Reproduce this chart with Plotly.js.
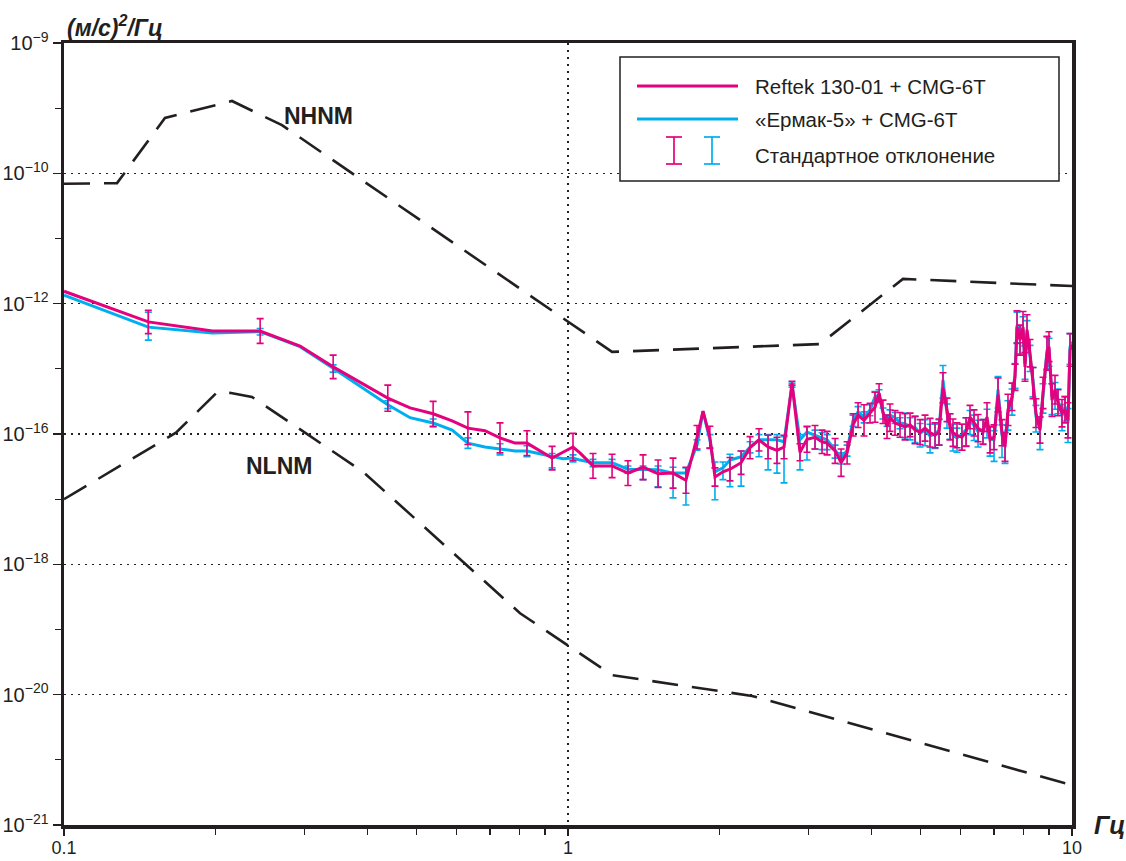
<!DOCTYPE html>
<html><head><meta charset="utf-8">
<script src="https://cdn.plot.ly/plotly-3.0.1.min.js"></script>
<style>html,body{margin:0;padding:0;background:#fff}#chart{width:1126px;height:861px}</style>
</head><body><div id="chart"></div>
<script>
// Frequencies, Hz (shared by both recordings)
const freqHz = [
 0.100, 0.147, 0.197, 0.245, 0.294, 0.342, 0.439, 0.486, 0.540, 0.589,
 0.633, 0.684, 0.733, 0.785, 0.829, 0.930, 0.977, 1.023, 1.056, 1.121,
 1.223, 1.315, 1.409, 1.509, 1.616, 1.714, 1.803, 1.853, 1.912, 1.957,
 2.030, 2.096, 2.205, 2.297, 2.393, 2.494, 2.598, 2.683, 2.783, 2.886,
 2.980, 3.091, 3.192, 3.266, 3.388, 3.482, 3.579, 3.678, 3.763, 3.867,
 3.974, 4.066, 4.142, 4.217, 4.295, 4.354, 4.455, 4.558, 4.664, 4.772,
 4.882, 4.995, 5.110, 5.228, 5.349, 5.447, 5.546, 5.649, 5.727, 5.806,
 5.913, 6.048, 6.163, 6.275, 6.392, 6.510, 6.660, 6.782, 6.877, 7.003,
 7.132, 7.263, 7.364, 7.464, 7.603, 7.708, 7.779, 7.886, 7.995, 8.068,
 8.142, 8.254, 8.368, 8.482, 8.640, 8.759, 8.920, 9.003, 9.128, 9.253,
 9.380, 9.554, 9.685, 9.819, 9.910, 10.0];

// PSD in dB (10*log10 of the plotted quantity)
const reftekDb = [
 -128.1,-132.8,-134.2,-134.2,-136.5,-139.7,-144.5,-146.0,-146.9,-148.0,
 -149.1,-149.5,-150.6,-151.4,-151.4,-153.7,-152.8,-152.0,-152.9,-154.9,
 -154.9,-156.0,-155.1,-156.1,-156.0,-157.1,-150.5,-146.5,-150.5,-156.6,
 -155.8,-155.4,-154.4,-152.1,-150.9,-152.0,-152.5,-152.0,-142.2,-152.8,
 -150.8,-150.5,-151.2,-151.4,-152.6,-154.4,-152.9,-148.6,-147.1,-147.9,
 -146.8,-145.9,-143.7,-146.6,-148.9,-147.5,-148.3,-148.6,-148.9,-148.6,
 -149.4,-149.7,-149.1,-149.8,-150.2,-149.7,-142.9,-146.3,-148.9,-149.8,
 -150.2,-150.5,-149.7,-147.4,-148.3,-149.1,-149.7,-147.4,-150.9,-150.5,
 -144.0,-149.8,-152.0,-146.3,-144.3,-141.3,-133.6,-135.6,-133.6,-139.7,
 -134.0,-137.6,-142.2,-146.8,-149.4,-143.7,-137.6,-136.6,-144.8,-143.2,
 -145.2,-146.8,-146.3,-147.9,-137.1,-136.3];

const ermakDb = [
 -128.7,-133.6,-134.5,-134.3,-136.6,-139.9,-145.5,-147.5,-148.3,-149.4,
 -151.4,-152.0,-152.3,-152.6,-152.6,-153.5,-153.8,-153.7,-154.0,-154.4,
 -154.4,-155.4,-155.5,-155.5,-156.0,-156.0,-151.7,-146.5,-150.9,-155.8,
 -155.2,-154.0,-153.5,-152.0,-150.9,-150.9,-150.9,-151.2,-142.5,-150.9,
 -149.7,-150.2,-150.6,-150.9,-152.5,-153.7,-152.5,-147.9,-146.6,-147.4,
 -146.3,-144.3,-144.0,-146.8,-147.9,-147.1,-147.5,-148.3,-148.4,-148.9,
 -149.0,-149.9,-149.4,-150.3,-150.0,-149.4,-141.7,-146.9,-148.5,-150.2,
 -150.6,-150.1,-149.3,-147.9,-148.7,-149.6,-149.3,-148.0,-150.4,-151.0,
 -143.2,-150.2,-151.4,-146.8,-144.8,-140.8,-133.3,-135.2,-133.9,-139.2,
 -134.4,-138.1,-141.7,-147.3,-149.0,-144.2,-137.2,-137.1,-144.3,-143.8,
 -144.7,-147.2,-145.8,-148.3,-136.6,-135.8];

// Standard deviation, dB (null = no bar shown)
const reftekSdDb = [
 null,1.8,null,1.9,null,1.8,2.0,null,1.9,null,
 2.5,null,2.3,null,1.9,1.8,null,2.1,null,1.9,
 1.8,1.9,1.9,2.1,2.3,2.0,1.8,null,1.7,1.4,
 null,1.8,1.8,1.7,1.7,1.8,2.0,1.8,0.3,1.3,
 2.0,1.8,1.8,1.8,1.9,2.1,1.7,1.7,1.9,2.4,
 1.5,2.3,1.4,1.8,1.8,2.1,1.9,1.9,2.0,1.8,
 2.1,1.9,2.0,2.2,1.9,2.0,2.3,1.8,2.0,2.1,
 1.9,2.0,2.2,1.8,2.0,2.1,1.9,2.2,2.0,1.9,
 2.6,2.0,2.2,2.4,2.1,2.0,2.5,2.3,2.4,2.2,
 2.3,2.1,2.4,2.2,2.0,2.4,2.6,2.3,2.5,2.2,
 2.0,2.1,2.0,2.7,2.5,null];

const ermakSdUpDb = [
 null,2.3,null,0.5,null,0.5,0.6,null,0.6,null,
 0.8,null,0.8,null,0.8,0.5,null,0.5,null,0.5,
 0.5,0.5,0.6,0.6,0.9,0.8,0.8,null,0.8,1.5,
 0.9,0.9,0.9,0.8,0.8,0.8,0.8,0.8,0.3,0.8,
 0.8,0.8,0.8,0.8,0.8,0.8,0.8,0.8,0.8,0.8,
 0.8,0.8,0.8,0.8,0.8,0.8,0.8,0.8,1.6,1.4,
 1.7,1.5,1.6,1.8,1.5,1.6,2.2,1.5,1.6,1.7,
 1.5,1.6,1.8,1.5,1.6,1.7,1.5,1.8,1.6,1.5,
 2.0,1.6,1.7,1.9,1.7,1.6,2.0,1.8,1.9,1.7,
 1.8,1.7,1.9,1.7,1.6,1.9,2.1,1.8,2.0,1.7,
 1.6,1.7,1.6,2.2,2.0,null];

const ermakSdDownDb = [
 null,2.0,null,0.5,null,0.6,0.6,null,0.6,null,
 0.8,null,0.9,null,0.9,1.7,null,0.6,null,0.6,
 0.5,0.6,1.5,2.6,3.8,4.9,0.8,null,1.2,4.3,
 1.8,4.1,4.5,0.9,2.6,4.6,5.1,6.3,0.3,4.6,
 4.3,2.1,1.8,1.5,1.2,0.9,0.9,0.9,0.9,0.9,
 0.9,0.9,0.9,0.9,0.9,0.9,0.9,0.9,2.2,2.0,
 2.3,2.1,2.4,2.6,2.2,2.3,2.8,2.2,2.3,2.4,
 2.2,2.4,2.5,2.2,2.3,2.4,2.2,2.6,3.0,3.2,
 2.8,3.4,3.1,2.6,2.3,2.2,2.7,2.5,2.6,2.4,
 2.5,2.3,2.6,2.4,3.4,2.6,2.8,2.5,2.7,2.4,
 2.2,2.3,2.2,3.0,2.7,null];

// Noise models (Peterson), as drawn
const nhnmFreq = [0.100, 0.1274, 0.1586, 0.2154, 0.2707, 1.223, 3.162, 4.620, 10.0];
const nhnmDb   = [-111.6, -111.5, -101.5, -98.9, -102.6, -137.4, -136.2, -126.2, -127.3];
const nlnmFreq = [0.100, 0.1668, 0.2012, 0.2145, 0.2360, 0.3920, 0.8033, 1.223, 2.318, 10.0];
const nlnmDb   = [-160.0, -149.8, -143.6, -143.7, -144.3, -155.8, -177.5, -187.0, -190.2, -203.9];

// Axis ticks
const yTickVals = [1e-9, 1e-11, 1e-13, 1e-15, 1e-17, 1e-19, 1e-21];
const yTickText = ['10<sup>−9</sup>','10<sup>−10</sup>','10<sup>−12</sup>','10<sup>−16</sup>','10<sup>−18</sup>','10<sup>−20</sup>','10<sup>−21</sup>'];
const yMinorVals = [1e-10, 1e-12, 1e-14, 1e-16, 1e-18, 1e-20];
const xTickVals = [0.1, 1, 10];
const xTickText = ['0.1', '1', '10'];
const xMinorVals = [0.2,0.3,0.4,0.5,0.6,0.7,0.8,0.9,2,3,4,5,6,7,8,9];

const seriesNames = ['Reftek 130-01 + CMG-6T', '«Ермак-5» + CMG-6T', 'Стандартное отклонение'];

const MAG = '#e5007e', CYA = '#00aeef', INK = '#231f20';
const FONT = 'Liberation Sans, Arial, Helvetica, sans-serif';

const toLin = db => Math.pow(10, db / 10);
const errPlus = (dbArr, sd) => dbArr.map((d, i) => sd[i] == null ? NaN : toLin(d) * (Math.pow(10, sd[i] / 10) - 1));
const errMinus = (dbArr, sd) => dbArr.map((d, i) => sd[i] == null ? NaN : toLin(d) * (1 - Math.pow(10, -sd[i] / 10)));

const traces = [
  {x: nhnmFreq, y: nhnmDb.map(toLin), mode: 'lines', line: {color: INK, width: 2.6, dash: '26px,14px'}, hoverinfo: 'skip', name: 'NHNM'},
  {x: nlnmFreq, y: nlnmDb.map(toLin), mode: 'lines', line: {color: INK, width: 2.6, dash: '26px,14px'}, hoverinfo: 'skip', name: 'NLNM'},
  {x: freqHz, y: ermakDb.map(toLin), mode: 'lines', name: seriesNames[1],
   line: {color: CYA, width: 3},
   error_y: {type: 'data', symmetric: false, array: errPlus(ermakDb, ermakSdUpDb), arrayminus: errMinus(ermakDb, ermakSdDownDb),
             color: CYA, thickness: 1.6, width: 3.5}},
  {x: freqHz, y: reftekDb.map(toLin), mode: 'lines', name: seriesNames[0],
   line: {color: MAG, width: 3},
   error_y: {type: 'data', symmetric: false, array: errPlus(reftekDb, reftekSdDb), arrayminus: errMinus(reftekDb, reftekSdDb),
             color: MAG, thickness: 1.6, width: 3.5}}
];

const px = v => (v - 64) / 1008;
const py = v => (825 - v) / 782;

const shapes = [
  {type: 'rect', xref: 'paper', yref: 'paper', x0: px(620), x1: px(1059), y0: py(181), y1: py(57),
   line: {color: INK, width: 1.5}, fillcolor: '#ffffff', layer: 'above'},
  {type: 'line', xref: 'paper', yref: 'paper', x0: px(637), x1: px(738), y0: py(86), y1: py(86), line: {color: MAG, width: 3}},
  {type: 'line', xref: 'paper', yref: 'paper', x0: px(637), x1: px(738), y0: py(119), y1: py(119), line: {color: CYA, width: 3}},
  {type: 'line', xref: 'paper', yref: 'paper', x0: px(674), x1: px(674), y0: py(164), y1: py(137), line: {color: MAG, width: 1.7}},
  {type: 'line', xref: 'paper', yref: 'paper', x0: px(666), x1: px(682), y0: py(137), y1: py(137), line: {color: MAG, width: 1.7}},
  {type: 'line', xref: 'paper', yref: 'paper', x0: px(666), x1: px(682), y0: py(164), y1: py(164), line: {color: MAG, width: 1.7}},
  {type: 'line', xref: 'paper', yref: 'paper', x0: px(712), x1: px(712), y0: py(164), y1: py(137), line: {color: CYA, width: 1.7}},
  {type: 'line', xref: 'paper', yref: 'paper', x0: px(704), x1: px(720), y0: py(137), y1: py(137), line: {color: CYA, width: 1.7}},
  {type: 'line', xref: 'paper', yref: 'paper', x0: px(704), x1: px(720), y0: py(164), y1: py(164), line: {color: CYA, width: 1.7}}
];

const legFont = {family: FONT, size: 20.5, color: INK};
const annotations = [
  {xref: 'paper', yref: 'paper', x: px(753), y: py(86), xanchor: 'left', yanchor: 'middle', showarrow: false, text: seriesNames[0], font: legFont},
  {xref: 'paper', yref: 'paper', x: px(753), y: py(119), xanchor: 'left', yanchor: 'middle', showarrow: false, text: seriesNames[1], font: legFont},
  {xref: 'paper', yref: 'paper', x: px(753), y: py(155), xanchor: 'left', yanchor: 'middle', showarrow: false, text: seriesNames[2], font: legFont},
  {xref: 'paper', yref: 'paper', x: px(318), y: py(116), xanchor: 'center', yanchor: 'middle', showarrow: false, text: '<b>NHNM</b>', font: {family: FONT, size: 23, color: INK}},
  {xref: 'paper', yref: 'paper', x: px(279), y: py(466), xanchor: 'center', yanchor: 'middle', showarrow: false, text: '<b>NLNM</b>', font: {family: FONT, size: 23, color: INK}},
  {xref: 'paper', yref: 'paper', x: px(65), y: py(26), xanchor: 'left', yanchor: 'middle', showarrow: false, text: '<b><i>(м/с)<sup>2</sup>/Гц</i></b>', font: {family: FONT, size: 23, color: INK}},
  {xref: 'paper', yref: 'paper', x: px(1092), y: py(825), xanchor: 'left', yanchor: 'middle', showarrow: false, text: '<b><i>Гц</i></b>', font: {family: FONT, size: 25, color: INK}}
];

const layout = {
  width: 1126, height: 861,
  margin: {l: 64, r: 54, t: 43, b: 36},
  paper_bgcolor: '#ffffff', plot_bgcolor: '#ffffff',
  showlegend: false,
  xaxis: {
    type: 'log', range: [-1, 1],
    tickmode: 'array', tickvals: xTickVals, ticktext: xTickText,
    ticks: 'outside', ticklen: 7, tickwidth: 1.5, tickcolor: INK,
    ticklabelstandoff: -3,
    showline: true, linewidth: 3.5, linecolor: INK, mirror: true,
    showgrid: true, gridcolor: INK, gridwidth: 1.6, griddash: '2px,5px',
    zeroline: false,
    tickfont: {family: FONT, size: 18, color: INK},
    minor: {tickvals: xMinorVals, ticks: 'outside', ticklen: 6, tickwidth: 1.2, tickcolor: INK, showgrid: false}
  },
  yaxis: {
    type: 'log', range: [-21, -9],
    tickmode: 'array', tickvals: yTickVals, ticktext: yTickText,
    ticks: 'outside', ticklen: 8, tickwidth: 1.5, tickcolor: INK,
    showline: true, linewidth: 3.5, linecolor: INK, mirror: true,
    showgrid: true, gridcolor: INK, gridwidth: 1.6, griddash: '2px,5px',
    zeroline: false,
    tickfont: {family: FONT, size: 20, color: INK},
    minor: {tickvals: yMinorVals, ticks: 'outside', ticklen: 6, tickwidth: 1.2, tickcolor: INK, showgrid: false}
  },
  shapes: shapes,
  annotations: annotations
};

Plotly.newPlot('chart', traces, layout, {staticPlot: true, displayModeBar: false});
</script>
</body></html>
